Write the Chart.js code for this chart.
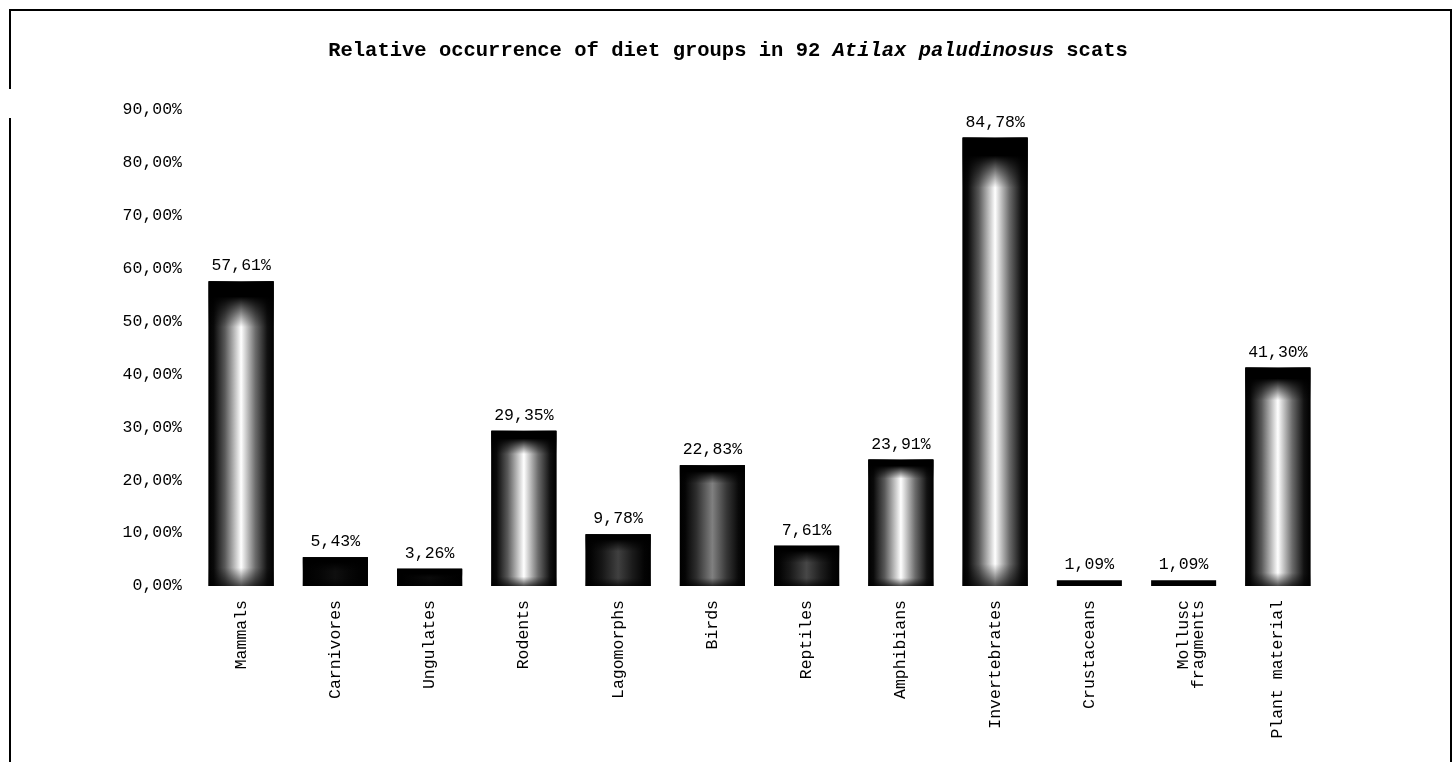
<!DOCTYPE html>
<html><head><meta charset="utf-8">
<script src="https://cdn.jsdelivr.net/npm/chart.js@4.4.1/dist/chart.umd.min.js"></script>
<style>
html,body{margin:0;padding:0;background:#fff;overflow:hidden;}
#wrap{position:relative;width:1456px;height:762px;}
canvas{position:absolute;left:0;top:0;}
.frame{position:absolute;background:#000;}
</style></head><body>
<div id="wrap">
<canvas id="c" width="1456" height="762"></canvas>
<div class="frame" style="left:9px;top:9px;width:1443px;height:2px"></div>
<div class="frame" style="left:1450px;top:9px;width:2px;height:760px"></div>
<div class="frame" style="left:9px;top:9px;width:2px;height:80px"></div>
<div class="frame" style="left:9px;top:118px;width:2px;height:650px"></div>
</div>
<script>
// ---- data ----
const categories = ['Mammals','Carnivores','Ungulates','Rodents','Lagomorphs','Birds','Reptiles','Amphibians','Invertebrates','Crustaceans',['Mollusc','fragments'],'Plant material'];
const occurrence = [57.61, 5.43, 3.26, 29.35, 9.78, 22.83, 7.61, 23.91, 84.78, 1.09, 1.09, 41.30];
const yMin = 0, yMax = 90, yStep = 10;
const titleParts = [['Relative occurrence of diet groups in 92 ', false], ['Atilax paludinosus', true], [' scats', false]];
// ---- style ----
const glowStrength = [1, 0.06, 0.04, 1, 0.25, 0.5, 0.28, 1, 1, 0, 0, 1];
const FONT = "'Liberation Mono', 'Courier New', monospace";
const TXT = 16.5;

const fmt = v => Number(v).toFixed(2).replace('.', ',') + '%';

const glowPlugin = {
  id: 'glow',
  afterDatasetsDraw(chart) {
    const ctx = chart.ctx;
    const meta = chart.getDatasetMeta(0);
    meta.data.forEach((bar, i) => {
      const g = glowStrength[i];
      if (!g) return;
      const p = bar.getProps(['x', 'y', 'base', 'width'], true);
      const l = p.x - p.width / 2, h = p.base - p.y, w = p.width;
      const c = v => { const k = Math.round(255 * v * g); return `rgb(${k},${k},${k})`; };
      const hg = ctx.createLinearGradient(l, 0, l + w, 0);
      hg.addColorStop(0, '#000');
      hg.addColorStop(0.08, c(0.04));
      hg.addColorStop(0.25, c(0.35));
      hg.addColorStop(0.5, c(1));
      hg.addColorStop(0.72, c(0.42));
      hg.addColorStop(0.9, c(0.07));
      hg.addColorStop(1, '#000');
      ctx.save();
      ctx.fillStyle = hg;
      ctx.fillRect(l, p.y, w, h);
      const s = Math.min(Math.max(0.05 * h, 5), 18);
      const f = s + Math.min(Math.max(0.1 * h, 12), 32);
      const b = Math.min(Math.max(0.06 * h, 8), 22);
      const vg = ctx.createLinearGradient(0, p.y, 0, p.base);
      vg.addColorStop(0, 'rgba(0,0,0,1)');
      vg.addColorStop(s / h, 'rgba(0,0,0,1)');
      vg.addColorStop(Math.min(f / h, 0.49), 'rgba(0,0,0,0)');
      vg.addColorStop(Math.max(1 - b / h, 0.51), 'rgba(0,0,0,0)');
      vg.addColorStop(1, 'rgba(0,0,0,0.7)');
      ctx.fillStyle = vg;
      ctx.fillRect(l, p.y, w, h);
      ctx.restore();
    });
  }
};

const valueLabels = {
  id: 'valueLabels',
  afterDatasetsDraw(chart) {
    const ctx = chart.ctx;
    const meta = chart.getDatasetMeta(0);
    ctx.save();
    ctx.font = TXT + 'px ' + FONT;
    ctx.fillStyle = '#000';
    ctx.textAlign = 'center';
    ctx.textBaseline = 'alphabetic';
    meta.data.forEach((bar, i) => {
      ctx.fillText(fmt(occurrence[i]), bar.x, bar.y - 11);
    });
    ctx.restore();
  }
};

const titlePlugin = {
  id: 'mixedTitle',
  afterDraw(chart) {
    const ctx = chart.ctx;
    ctx.save();
    ctx.fillStyle = '#000';
    ctx.textBaseline = 'alphabetic';
    ctx.textAlign = 'left';
    const fonts = titleParts.map(([t, it]) => (it ? 'italic ' : '') + 'bold 20.5px ' + FONT);
    let total = 0;
    const widths = titleParts.map(([t], i) => { ctx.font = fonts[i]; const m = ctx.measureText(t).width; total += m; return m; });
    let x = chart.width / 2 - total / 2;
    titleParts.forEach(([t], i) => { ctx.font = fonts[i]; ctx.fillText(t, x, 56); x += widths[i]; });
    ctx.restore();
  }
};

new Chart(document.getElementById('c'), {
  type: 'bar',
  data: {
    labels: categories,
    datasets: [{
      data: occurrence,
      backgroundColor: '#000',
      borderWidth: 0,
      barPercentage: 0.69,
      categoryPercentage: 1
    }]
  },
  options: {
    responsive: false,
    animation: false,
    devicePixelRatio: 1,
    layout: { padding: { top: 110, right: 131, bottom: 0, left: 0 } },
    plugins: { legend: { display: false }, tooltip: { enabled: false }, title: { display: false } },
    scales: {
      x: {
        grid: { display: false },
        border: { display: false },
        ticks: {
          color: '#000',
          font: { family: FONT, size: TXT, lineHeight: 0.9 },
          minRotation: 90, maxRotation: 90,
          autoSkip: false,
          padding: 6
        },
        afterFit: s => { s.height = 176; }
      },
      y: {
        min: yMin, max: yMax,
        grid: { display: false },
        border: { display: false },
        ticks: {
          stepSize: yStep,
          color: '#000',
          font: { family: FONT, size: TXT },
          padding: 4,
          callback: v => fmt(v)
        },
        afterFit: s => { s.width = 194; }
      }
    }
  },
  plugins: [glowPlugin, valueLabels, titlePlugin]
});
</script>
</body></html>
